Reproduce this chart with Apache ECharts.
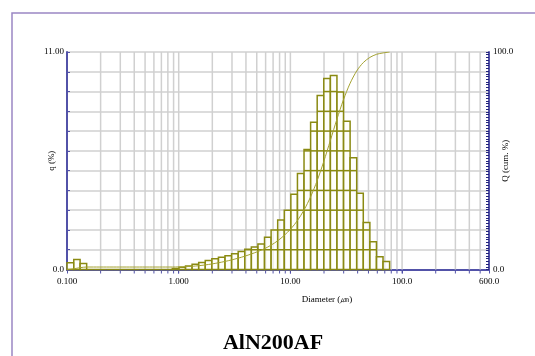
<!DOCTYPE html>
<html>
<head>
<meta charset="utf-8">
<script src="https://cdn.jsdelivr.net/npm/echarts@6/dist/echarts.min.js"></script>
<style>
  html, body { margin: 0; padding: 0; background: #fff; }
  #main { width: 535px; height: 356px; }
</style>
</head>
<body>
<div id="main"></div>
<script>
// bin edges (um), one more than the number of bins
const binEdges = [0.100, 0.115, 0.131, 0.150, 0.172, 0.197, 0.226, 0.259, 0.296, 0.339,
  0.389, 0.445, 0.510, 0.584, 0.669, 0.766, 0.877, 1.005, 1.151, 1.318,
  1.510, 1.729, 1.981, 2.269, 2.599, 2.976, 3.409, 3.905, 4.472, 5.122,
  5.867, 6.720, 7.697, 8.816, 10.097, 11.565, 13.246, 15.172, 17.377, 19.904,
  22.797, 26.111, 29.907, 34.255, 39.234, 44.938, 51.471, 58.953, 67.523, 77.339];

// q (%) per bin
const qValues = [0.34, 0.50, 0.30, 0, 0, 0, 0, 0, 0, 0,
  0, 0, 0, 0, 0, 0, 0.05, 0.11, 0.18, 0.26,
  0.36, 0.45, 0.54, 0.62, 0.70, 0.80, 0.91, 1.02, 1.14, 1.29,
  1.63, 2.00, 2.50, 3.00, 3.80, 4.86, 6.07, 7.45, 8.80, 9.66,
  9.81, 8.98, 7.50, 5.65, 3.86, 2.38, 1.40, 0.65, 0.40];

// Q (cum. %) at the upper edge of each bin
const qCumulative = [0.34, 0.84, 1.14, 1.14, 1.14, 1.14, 1.14, 1.14, 1.14, 1.14,
  1.14, 1.14, 1.14, 1.14, 1.14, 1.14, 1.19, 1.30, 1.48, 1.74,
  2.10, 2.55, 3.09, 3.71, 4.41, 5.21, 6.12, 7.14, 8.28, 9.57,
  11.20, 13.20, 15.70, 18.70, 22.50, 27.36, 33.43, 40.88, 49.68, 59.34,
  69.15, 78.13, 85.63, 91.28, 95.14, 97.52, 98.92, 99.57, 100.0];

// vertical grid lines of the log axis
const gridLinesX = [0.2, 0.3, 0.4, 0.5, 0.6, 0.7, 0.8, 0.9,
  1, 2, 3, 4, 5, 6, 7, 8, 9,
  10, 20, 30, 40, 50, 60, 70, 80, 90,
  100, 200, 300, 400, 500];

const xTickValues = [0.1, 1, 10, 100, 600];
const xTickLabels = ['0.100', '1.000', '10.00', '100.0', '600.0'];

const chart = echarts.init(document.getElementById('main'));

const serif = 'Liberation Serif';
const axisBlue = '#5252a8';
const olive = '#8a8a12';
const gridGray = '#d0d0d0';

const barData = qValues.map((v, i) => [binEdges[i], binEdges[i + 1], v]);
const cumData = [[binEdges[0], 0]].concat(qCumulative.map((v, i) => [binEdges[i + 1], v]));

function renderBar(params, api) {
  const lo = api.coord([api.value(0), 0]);
  const hi = api.coord([api.value(1), api.value(2)]);
  const x = lo[0], w = hi[0] - lo[0];
  const children = [{
    type: 'rect',
    shape: { x: x, y: hi[1], width: w, height: lo[1] - hi[1] },
    style: { fill: 'rgba(255,255,248,0.6)', stroke: olive, lineWidth: 1.5 }
  }];
  // horizontal lines inside the bar at each whole percent
  for (let k = 1; k < api.value(2); k++) {
    const p = api.coord([api.value(0), k]);
    children.push({
      type: 'line',
      shape: { x1: x, y1: p[1], x2: x + w, y2: p[1] },
      style: { stroke: olive, lineWidth: 1.5 }
    });
  }
  return { type: 'group', children: children };
}

function renderGridLine(params, api) {
  const b = api.coord([api.value(0), 0]);
  const t = api.coord([api.value(0), 11]);
  return {
    type: 'group',
    children: [
      { type: 'line', shape: { x1: b[0], y1: b[1], x2: t[0], y2: t[1] },
        style: { stroke: gridGray, lineWidth: 1.5 } },
      { type: 'line', shape: { x1: b[0], y1: b[1] + 4, x2: b[0], y2: b[1] + 1 },
        style: { stroke: axisBlue, lineWidth: 1 } }
    ]
  };
}

function xLabel(v) {
  for (let i = 0; i < xTickValues.length; i++) {
    if (Math.abs(v - xTickValues[i]) / xTickValues[i] < 0.01) return xTickLabels[i];
  }
  return '';
}

const option = {
  animation: false,
  grid: { left: 67, right: 46, top: 52, bottom: 86.5, containLabel: false, outerBoundsMode: 'none' },
  graphic: [
    { type: 'rect', z: -10, shape: { x: 12, y: 13, width: 600, height: 400 },
      style: { fill: 'none', stroke: '#9a86c4', lineWidth: 1.5 } },
    { type: 'text', x: 273, y: 343,
      style: { text: 'AlN200AF', font: 'bold 22px "Liberation Serif"', fill: '#000',
        textAlign: 'center', textVerticalAlign: 'middle' } }
  ],
  xAxis: [
    {
      type: 'log', logBase: 10, min: 0.1, max: 600, position: 'bottom', offset: 3,
      axisLine: { lineStyle: { color: axisBlue, width: 2 } },
      axisTick: { length: 4, lineStyle: { color: axisBlue } },
      axisLabel: { fontFamily: serif, fontSize: 9, color: '#000', margin: 5, formatter: xLabel,
        showMaxLabel: true, showMinLabel: true },
      splitLine: { show: false },
      name: 'Diameter (㎛)', nameLocation: 'middle', nameGap: 23, nameMoveOverlap: false,
      nameTextStyle: { fontFamily: serif, fontSize: 9, color: '#000', padding: [0, 0, 0, 98] }
    },
    {
      type: 'log', logBase: 10, min: 0.1, max: 600, position: 'top',
      axisLine: { lineStyle: { color: axisBlue, width: 2 } },
      axisTick: { show: false }, axisLabel: { show: false }, splitLine: { show: false }
    }
  ],
  yAxis: [
    {
      type: 'value', min: 0, max: 11, interval: 1, position: 'left',
      axisLine: { show: true, lineStyle: { color: axisBlue, width: 2 } },
      axisTick: { show: true, inside: true, length: 3, lineStyle: { color: axisBlue } },
      axisLabel: { fontFamily: serif, fontSize: 9, color: '#000', margin: 3,
        formatter: v => (v === 11 ? '11.00' : v === 0 ? '0.0' : '') },
      splitLine: { show: true, lineStyle: { color: gridGray, width: 1.5 } },
      name: 'q (%)', nameLocation: 'middle', nameGap: 11, nameRotate: 90, nameMoveOverlap: false,
      nameTextStyle: { fontFamily: serif, fontSize: 9, color: '#000' }
    },
    {
      type: 'value', min: 0, max: 100, interval: 1.25, position: 'right',
      axisLine: { show: true, lineStyle: { color: axisBlue, width: 2 } },
      axisTick: { show: true, inside: true, length: 3, lineStyle: { color: '#23237d' } },
      axisLabel: { fontFamily: serif, fontSize: 9, color: '#000', margin: 4,
        formatter: v => (v === 100 ? '100.0' : v === 0 ? '0.0' : '') },
      splitLine: { show: false },
      name: 'Q (cum. %)', nameLocation: 'middle', nameGap: 12, nameRotate: 90, nameMoveOverlap: false,
      nameTextStyle: { fontFamily: serif, fontSize: 9, color: '#000' }
    }
  ],
  series: [
    {
      type: 'custom', name: 'grid', silent: true, z: 1,
      xAxisIndex: 0, yAxisIndex: 0,
      renderItem: renderGridLine,
      encode: { x: 0, y: 1 },
      data: gridLinesX.map(v => [v, 0])
    },
    {
      type: 'custom', name: 'q', z: 3,
      xAxisIndex: 0, yAxisIndex: 0,
      renderItem: renderBar,
      encode: { x: [0, 1], y: 2 },
      data: barData
    },
    {
      type: 'line', name: 'Q', z: 5,
      xAxisIndex: 0, yAxisIndex: 1,
      data: cumData, smooth: 0.3, showSymbol: false,
      lineStyle: { color: '#a4a232', width: 1 }
    }
  ]
};

chart.setOption(option);
</script>
</body>
</html>
